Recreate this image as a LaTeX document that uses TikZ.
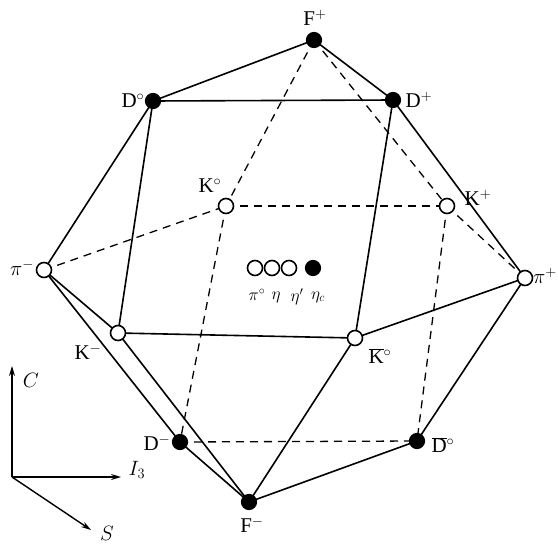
\documentclass[tikz,border=0pt]{standalone}
\usepackage{fontspec}
\setmainfont{Liberation Serif}
\usetikzlibrary{arrows.meta}
\begin{document}
\begin{tikzpicture}[x=1pt,y=-1pt,
  filled/.style={circle,fill=black,draw=black,line width=1.2pt,minimum size=15pt,inner sep=0pt},
  hollow/.style={circle,fill=white,draw=black,line width=1.6pt,minimum size=15pt,inner sep=0pt},
  lab/.style={font=\fontsize{21}{23}\selectfont,inner sep=0pt},
  sml/.style={font=\fontsize{18}{20}\selectfont,inner sep=0pt},
  edge/.style={line width=1.6pt},
  dedge/.style={line width=1.3pt,dash pattern=on 8pt off 6pt},
  axis/.style={line width=1.4pt,-{Stealth[length=10pt,width=6pt]}}]
\useasboundingbox (0,0) rectangle (558,546);
% coordinates
\coordinate (pFp) at (314,40);
\coordinate (pD0) at (153,101);
\coordinate (pDp) at (393,100);
\coordinate (pK0) at (226,206);
\coordinate (pKp) at (447,206);
\coordinate (pPim) at (44,270);
\coordinate (pPip) at (525,278);
\coordinate (pKm) at (118,333);
\coordinate (pKb) at (355,338);
\coordinate (pDm) at (180,442);
\coordinate (pDb) at (417,441);
\coordinate (pFm) at (249,502);
% dashed edges
\draw[dedge] (pFp) -- (pK0);
\draw[dedge] (pFp) -- (pKp);
\draw[dedge] (pK0) -- (pKp);
\draw[dedge] (pPim) -- (pK0);
\draw[dedge] (pKp) -- (pPip);
\draw[dedge] (pK0) -- (pDm);
\draw[dedge] (pKp) -- (pDb);
\draw[dedge] (pDm) -- (pDb);
% solid edges
\draw[edge] (pFp) -- (pD0);
\draw[edge] (pFp) -- (pDp);
\draw[edge] (pD0) -- (pDp);
\draw[edge] (pD0) -- (pPim);
\draw[edge] (pD0) -- (pKm);
\draw[edge] (pDp) -- (pPip);
\draw[edge] (pDp) -- (pKb);
\draw[edge] (pPim) -- (pKm);
\draw[edge] (pPim) -- (pDm);
\draw[edge] (pDm) -- (pFm);
\draw[edge] (pKm) -- (pFm);
\draw[edge] (pKm) -- (pKb);
\draw[edge] (pKb) -- (pFm);
\draw[edge] (pKb) -- (pPip);
\draw[edge] (pFm) -- (pDb);
\draw[edge] (pDb) -- (pPip);
% nodes
\node[filled] (Fp) at (pFp) {};
\node[filled] (D0) at (pD0) {};
\node[filled] (Dp) at (pDp) {};
\node[hollow] (K0) at (pK0) {};
\node[hollow] (Kp) at (pKp) {};
\node[hollow] (Pim) at (pPim) {};
\node[hollow] (Pip) at (pPip) {};
\node[hollow] (Km) at (pKm) {};
\node[hollow] (Kb) at (pKb) {};
\node[filled] (Dm) at (pDm) {};
\node[filled] (Db) at (pDb) {};
\node[filled] (Fm) at (pFm) {};
% center
\node[hollow] (c1) at (255,268) {};
\node[hollow] (c2) at (272,268) {};
\node[hollow] (c3) at (289,268) {};
\node[filled] (c4) at (313,268) {};
\node[sml] (t1) at (257,295) {$\pi^{\circ}$};
\node[sml] (t2) at (276,297) {$\eta$};
\node[sml] (t3) at (297,297) {$\eta^{\prime}$};
\node[sml] (t4) at (318,297) {$\eta_c$};
% labels
\node[lab] (lFp) at (315,18) {F$^{+}$};
\node[lab] (lD0) at (133,101) {D$^{\circ}$};
\node[lab] (lDp) at (419,100) {D$^{+}$};
\node[lab] (lK0) at (210,186) {K$^{\circ}$};
\node[lab] (lKp) at (478,198) {K$^{+}$};
\node[lab] (lPim) at (22,268) {$\pi^{-}$};
\node[lab] (lPip) at (545,276) {$\pi^{+}$};
\node[lab] (lKm) at (88,352) {K$^{-}$};
\node[lab] (lKb) at (380,356) {$\overline{\mathrm{K}}{}^{\circ}$};
\node[lab] (lDm) at (157,443) {D$^{-}$};
\node[lab] (lDb) at (443,445) {$\overline{\mathrm{D}}{}^{\circ}$};
\node[lab] (lFm) at (252,525) {F$^{-}$};
% axes
\coordinate (O) at (12,477);
\coordinate (Ce) at (12,366);
\coordinate (Ie) at (121,477);
\coordinate (Se) at (91,530);
\draw[axis] (O) -- (Ce);
\draw[axis] (O) -- (Ie);
\draw[axis] (O) -- (Se);
\node[lab] (lC) at (31,380) {$C$};
\node[lab] (lI) at (137,470) {$I_3$};
\node[lab] (lS) at (107,533) {$S$};
\end{tikzpicture}
\end{document}
